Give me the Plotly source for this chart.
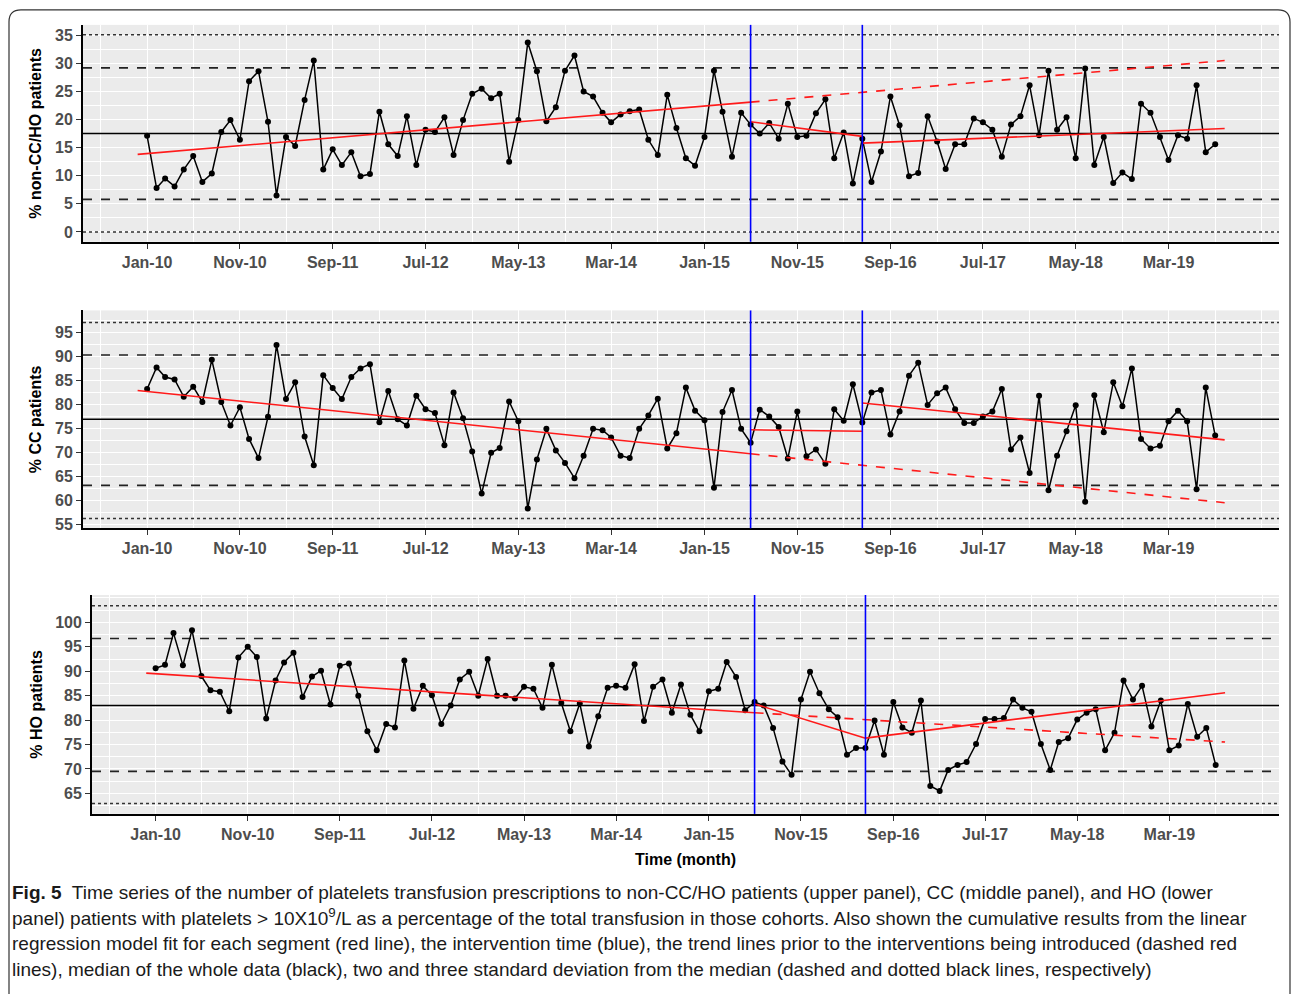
import plotly.graph_objects as go
import pandas as pd

# ---------------- data ----------------
months = pd.date_range("2010-01-01", periods=116, freq="MS")

non_cc_ho = [17.1, 7.8, 9.5, 8.1, 11.1, 13.5, 8.9, 10.4, 17.8, 19.9,
             16.4, 26.8, 28.6, 19.6, 6.5, 16.9, 15.3, 23.5, 30.5, 11.1,
             14.7, 11.9, 14.2, 9.9, 10.3, 21.4, 15.6, 13.5, 20.6, 11.9,
             18.2, 17.8, 20.4, 13.7, 19.9, 24.6, 25.5, 23.8, 24.6, 12.5,
             19.9, 33.7, 28.6, 19.7, 22.2, 28.7, 31.4, 25.0, 24.1, 21.2,
             19.5, 20.9, 21.5, 21.8, 16.4, 13.7, 24.4, 18.5, 13.1, 11.8,
             16.9, 28.7, 21.4, 13.4, 21.2, 19.1, 17.5, 19.4, 16.6, 22.8,
             16.9, 17.1, 21.1, 23.6, 13.1, 17.7, 8.6, 16.6, 8.9, 14.3,
             24.1, 19.0, 9.9, 10.5, 20.6, 16.1, 11.2, 15.6, 15.6, 20.2,
             19.5, 18.2, 13.4, 19.1, 20.6, 26.1, 17.2, 28.7, 18.2, 20.4,
             13.1, 29.1, 11.9, 16.9, 8.7, 10.6, 9.4, 22.8, 21.2, 16.9,
             12.8, 17.2, 16.6, 26.1, 14.2, 15.6]

cc = [83.2, 87.7, 85.7, 85.2, 81.6, 83.7, 80.5, 89.3, 80.5, 75.6,
      79.4, 72.8, 68.8, 77.4, 92.4, 81.1, 84.6, 73.3, 67.3, 86.1,
      83.4, 81.1, 85.7, 87.5, 88.4, 76.3, 82.8, 76.9, 75.6, 81.8,
      79.0, 78.2, 71.5, 82.5, 77.1, 70.2, 61.4, 69.9, 70.9, 80.6,
      76.5, 58.3, 68.5, 74.9, 70.4, 67.8, 64.6, 69.3, 74.9, 74.6,
      73.1, 69.3, 68.8, 74.9, 77.7, 81.2, 70.8, 74.0, 83.5, 78.7,
      76.7, 62.6, 78.4, 83.0, 74.9, 72.0, 78.9, 77.5, 75.3, 68.7,
      78.5, 69.2, 70.6, 67.6, 79.0, 76.6, 84.2, 76.2, 82.5, 83.0,
      73.7, 78.5, 86.0, 88.7, 79.9, 82.3, 83.5, 79.0, 76.1, 76.1,
      77.5, 78.5, 83.2, 70.6, 73.1, 65.7, 81.8, 62.1, 69.3, 74.4,
      79.8, 59.7, 81.9, 74.2, 84.6, 79.6, 87.5, 72.8, 70.8, 71.4,
      76.5, 78.7, 76.5, 62.3, 83.5, 73.5]

ho = [90.6, 91.3, 97.8, 91.2, 98.4, 89.0, 86.1, 85.8, 81.8, 92.8,
      95.0, 92.9, 80.3, 88.1, 91.8, 93.8, 84.7, 88.9, 90.1, 83.2,
      91.1, 91.6, 85.0, 77.7, 73.8, 79.2, 78.5, 92.2, 82.3, 87.0,
      85.1, 79.2, 83.0, 88.3, 89.9, 85.0, 92.5, 85.0, 85.0, 84.4,
      86.8, 86.4, 82.5, 91.3, 83.5, 77.7, 83.4, 74.6, 80.8, 86.6,
      87.0, 86.6, 91.4, 79.8, 86.8, 88.3, 81.5, 87.3, 81.1, 77.7,
      85.9, 86.4, 91.9, 88.8, 82.0, 83.7, 83.0, 78.4, 71.5, 68.8,
      84.2, 89.9, 85.5, 82.2, 80.6, 72.9, 74.3, 74.3, 79.9, 72.9,
      83.7, 78.5, 77.4, 84.0, 66.5, 65.5, 69.8, 70.8, 71.4, 75.1,
      80.2, 80.2, 80.4, 84.2, 82.5, 81.7, 75.1, 69.8, 75.5, 76.3,
      80.1, 81.5, 82.2, 73.8, 77.4, 88.1, 84.2, 87.0, 78.7, 84.0,
      73.8, 74.8, 83.3, 76.6, 78.4, 70.8]

# segment break dates: fit start, intervention 1, intervention 2, fit end
seg_dates = ["2009-12-01", "2015-06-01", "2016-06-01", "2019-09-01"]
interventions = ["2015-06-01", "2016-06-01"]

# fitted segment end-point values: [seg1 start, seg1 end, seg2 start, seg2 end, seg3 start, seg3 end]
fit_non_cc_ho = [13.8, 23.1, 19.6, 17.0, 15.8, 18.4]
fit_cc = [82.9, 69.7, 74.7, 74.4, 80.3, 72.6]
fit_ho = [89.6, 81.5, 83.3, 76.3, 76.3, 85.6]

# pre-intervention trend continued (start at intervention 1, end at fit end)
trend_non_cc_ho = [23.1, 30.5]
trend_cc = [69.7, 59.5]
trend_ho = [81.5, 75.5]

# median, -2SD, +2SD, -3SD, +3SD
limits_non_cc_ho = [17.5, 5.8, 29.2, 0.0, 35.1]
limits_cc = [76.9, 63.1, 90.3, 56.2, 97.1]
limits_ho = [83.0, 69.5, 96.7, 62.9, 103.4]

x_tick_dates = ["2010-01-01", "2010-11-01", "2011-09-01", "2012-07-01", "2013-05-01",
                "2014-03-01", "2015-01-01", "2015-11-01", "2016-09-01", "2017-07-01",
                "2018-05-01", "2019-03-01"]
x_tick_labels = ["Jan-10", "Nov-10", "Sep-11", "Jul-12", "May-13", "Mar-14", "Jan-15",
                 "Nov-15", "Sep-16", "Jul-17", "May-18", "Mar-19"]
x_minor_grid = ["2009-08-01", "2010-06-01", "2011-04-01", "2012-02-01", "2012-12-01",
                "2013-10-01", "2014-08-01", "2015-06-01", "2016-04-01", "2017-02-01",
                "2017-12-01", "2018-10-01", "2019-08-01", "2020-01-01"]

y_titles = ["% non-CC/HO patients", "% CC patients", "% HO patients"]
y_ticks = [[0, 5, 10, 15, 20, 25, 30, 35],
           [55, 60, 65, 70, 75, 80, 85, 90, 95],
           [65, 70, 75, 80, 85, 90, 95, 100]]
y_ranges = [[-1.75, 36.85], [54.15, 99.6], [60.8, 105.6]]

caption_lines = [
    "<b>Fig. 5</b>  Time series of the number of platelets transfusion prescriptions to non-CC/HO patients (upper panel), CC (middle panel), and HO (lower",
    "panel) patients with platelets > 10X10<sup>9</sup>/L as a percentage of the total transfusion in those cohorts. Also shown the cumulative results from the linear",
    "regression model fit for each segment (red line), the intervention time (blue), the trend lines prior to the interventions being introduced (dashed red",
    "lines), median of the whole data (black), two and three standard deviation from the median (dashed and dotted black lines, respectively)",
]

# ---------------- layout geometry ----------------
W, H = 1292, 994
def px(x):
    return x / W
def py(y):
    return 1 - y / H

panels = [
    dict(series=non_cc_ho, fit=fit_non_cc_ho, trend=trend_non_cc_ho, lim=limits_non_cc_ho,
         xdom=[px(83), px(1279)], ydom=[py(243), py(25)]),
    dict(series=cc, fit=fit_cc, trend=trend_cc, lim=limits_cc,
         xdom=[px(83), px(1279)], ydom=[py(531), py(312)]),
    dict(series=ho, fit=fit_ho, trend=trend_ho, lim=limits_ho,
         xdom=[px(92), px(1279)], ydom=[py(818), py(598)]),
]

fig = go.Figure()
shapes = []
FONT = "Liberation Sans, Arial, sans-serif"
x_range = ["2009-06-05", "2020-02-26"]

for i, p in enumerate(panels):
    n = "" if i == 0 else str(i + 1)
    xa, ya = "x" + n, "y" + n
    # reference horizontal lines (median, 2SD dashed, 3SD dotted), spanning the full axis range
    med, l2, u2, l3, u3 = p["lim"]
    for val, dash, w, col in [(med, "solid", 1.5, "black"),
                              (l2, "dash", 1.7, "#222222"), (u2, "dash", 1.7, "#222222"),
                              (l3, "dot", 1.5, "#333333"), (u3, "dot", 1.5, "#333333")]:
        fig.add_trace(go.Scatter(x=x_range, y=[val, val], mode="lines", xaxis=xa, yaxis=ya,
                                 line=dict(color=col, width=w, dash=dash), showlegend=False,
                                 hoverinfo="skip", cliponaxis=True))
    # intervention lines
    for d in interventions:
        shapes.append(dict(type="line", xref=xa, yref=ya + " domain", x0=d, x1=d, y0=0, y1=1,
                           line=dict(color="#0000FF", width=1.6), layer="above"))
    # data
    fig.add_trace(go.Scatter(x=months, y=p["series"], mode="lines+markers", xaxis=xa, yaxis=ya,
                             line=dict(color="black", width=1.5),
                             marker=dict(color="black", size=6), showlegend=False))
    # fitted segments
    f = p["fit"]
    for k in range(3):
        fig.add_trace(go.Scatter(x=[seg_dates[k], seg_dates[k + 1]], y=[f[2 * k], f[2 * k + 1]],
                                 mode="lines", xaxis=xa, yaxis=ya,
                                 line=dict(color="#FF1A1A", width=1.6), showlegend=False))
    fig.add_trace(go.Scatter(x=[seg_dates[1], seg_dates[3]], y=p["trend"], mode="lines",
                             xaxis=xa, yaxis=ya,
                             line=dict(color="#FF1A1A", width=1.6, dash="dash"), showlegend=False))

    xaxis = dict(domain=p["xdom"], anchor=ya, type="date", range=x_range,
                 tickvals=x_tick_dates, ticktext=x_tick_labels,
                 tickfont=dict(family=FONT, size=16, color="#4D4D4D", weight="bold"),
                 ticks="outside", ticklen=5, tickcolor="#333333", tickwidth=1.2,
                 showline=True, linecolor="black", linewidth=1.8,
                 showgrid=True, gridcolor="white", gridwidth=1.3, zeroline=False,
                 minor=dict(tickvals=x_minor_grid, showgrid=True, gridcolor="white",
                            gridwidth=0.8, ticks=""))
    yaxis = dict(domain=p["ydom"], anchor=xa, range=y_ranges[i], tickvals=y_ticks[i],
                 tickfont=dict(family=FONT, size=16, color="#4D4D4D", weight="bold"),
                 ticks="outside", ticklen=5, tickcolor="#333333", tickwidth=1.2,
                 showline=True, linecolor="black", linewidth=1.8,
                 showgrid=True, gridcolor="white", gridwidth=1.3, zeroline=False,
                 minor=dict(dtick=2.5, tick0=0, showgrid=True, gridcolor="white",
                            gridwidth=0.8, ticks=""),
                 title=dict(text=y_titles[i], standoff=9,
                            font=dict(family=FONT, size=16, color="black", weight="bold")))
    if i == 2:
        xaxis["title"] = dict(text="Time (month)", standoff=12,
                              font=dict(family=FONT, size=16, color="black", weight="bold"))
    fig.layout["xaxis" + n] = xaxis
    fig.layout["yaxis" + n] = yaxis

# frame around figure
shapes.append(dict(type="path", xref="paper", yref="paper",
                   path=f"M {px(9)} {py(1000)} L {px(9)} {py(22)} Q {px(9)} {py(10)} {px(21)} {py(10)} "
                        f"L {px(1278)} {py(10)} Q {px(1290)} {py(10)} {px(1290)} {py(22)} L {px(1290)} {py(1000)}",
                   line=dict(color="#333333", width=1.2)))

annotations = []
cap_y = [897, 922, 948, 974]
for t, yy in zip(caption_lines, cap_y):
    annotations.append(dict(text=t, x=px(10), y=py(yy), xref="paper", yref="paper",
                            xanchor="left", yanchor="middle", showarrow=False,
                            font=dict(family="Liberation Sans Narrow, Liberation Sans, Arial", size=19,
                                      color="#1a1a1a")))

fig.update_layout(width=W, height=H, margin=dict(l=0, r=0, t=0, b=0),
                  paper_bgcolor="white", plot_bgcolor="#EBEBEB",
                  shapes=shapes, annotations=annotations, showlegend=False)

fig.write_html("out.html")
